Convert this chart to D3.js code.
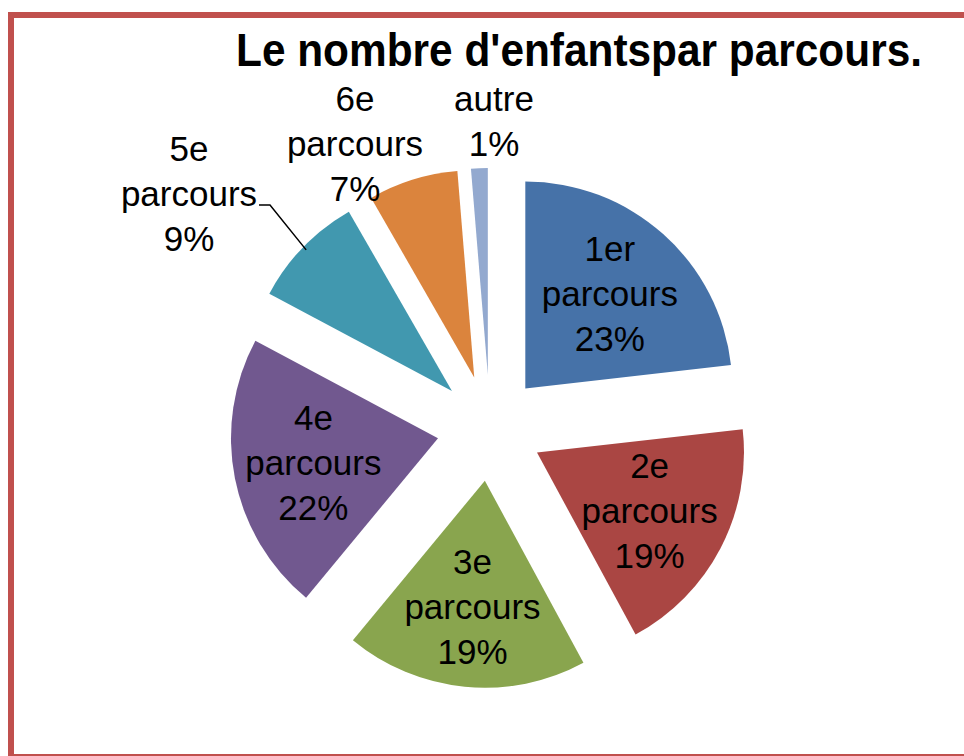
<!DOCTYPE html>
<html>
<head>
<meta charset="utf-8">
<title>Le nombre d'enfants par parcours</title>
<script src="https://cdn.jsdelivr.net/npm/d3@7/dist/d3.min.js"></script>
<style>
	body { margin: 0; background: #fff; }
	svg text { font-family: "Liberation Sans", Arial, sans-serif; fill: #000; }
</style>
</head>
<body>
<svg id="chart" width="964" height="756"></svg>
<script>
// data (percent of children)
var names = ["1er parcours", "2e parcours", "3e parcours", "4e parcours", "5e parcours", "6e parcours", "autre"];
var values = [23.2, 18.9, 18.9, 21.8, 8.9, 7.0, 1.3];
var colors = ["#4672A8", "#AA4643", "#89A54E", "#71588F", "#4198AF", "#DB843D", "#93A9CF"];
var title = "Le nombre d'enfantspar parcours.";

var svg = d3.select("#chart");

// frame
svg.append("rect")
	.attr("x", 11).attr("y", 15)
	.attr("width", 1000).attr("height", 742)
	.attr("fill", "#fff")
	.attr("stroke", "#C0504D")
	.attr("stroke-width", 6);

// title, squeezed horizontally to the width seen in the picture
var tg = svg.append("g");
var tt = tg.append("text")
	.style("font-size", "47px")
	.style("font-weight", "bold")
	.text(title);
var tw = tt.node().getComputedTextLength();
tg.attr("transform", "translate(236,66) scale(" + (686 / tw) + ",1)");

var cx = 490, cy = 428, R = 207, explode = 53;
var total = d3.sum(values);

var pie = d3.pie().sort(null).value(function(d){ return d; });
var arcs = pie(values);
var arc = d3.arc().innerRadius(0).outerRadius(R);

function mid(d){ return (d.startAngle + d.endAngle) / 2; }
function polar(a, r){ return [Math.sin(a) * r, -Math.cos(a) * r]; }

var g = svg.append("g").attr("transform", "translate(" + cx + "," + cy + ")");

var slices = g.selectAll("g.slice").data(arcs).enter()
	.append("g")
	.attr("class", "slice")
	.attr("transform", function(d){
		var p = polar(mid(d), explode);
		return "translate(" + p[0] + "," + p[1] + ")";
	});

slices.append("path")
	.attr("d", arc)
	.attr("fill", function(d, i){ return colors[i]; });

// label text lines
function lines(i){
	var pct = Math.round(values[i] / total * 100) + "%";
	var parts = names[i].split(" ");
	return parts.concat([pct]);
}

var lineH = 45;
var inside = [0, 1, 2, 3];
// outside label centres (page px) for the small slices
var outsidePos = {4: [189, 194], 5: [355, 144], 6: [494, 121]};

arcs.forEach(function(d, i){
	var ls = lines(i);
	var x, y;
	if (inside.indexOf(i) >= 0) {
		var p = polar(mid(d), explode + 127);
		x = cx + p[0]; y = cy + p[1];
	} else {
		x = outsidePos[i][0]; y = outsidePos[i][1];
	}
	var t = svg.append("text")
		.attr("text-anchor", "middle")
		.style("font-size", "35px");
	ls.forEach(function(s, k){
		t.append("tspan")
			.attr("x", x)
			.attr("y", y + 12 + (k - (ls.length - 1) / 2) * lineH)
			.text(s);
	});
});

// leader line for 5e parcours
var d5 = arcs[4];
var o5 = polar(mid(d5), explode);
var e5 = polar(mid(d5), R - 4);
var pts = [[cx + o5[0] + e5[0], cy + o5[1] + e5[1]], [270, 205], [259, 205]];
svg.append("path")
	.attr("d", d3.line()(pts))
	.attr("fill", "none")
	.attr("stroke", "#000")
	.attr("stroke-width", 1.5);
</script>
</body>
</html>
